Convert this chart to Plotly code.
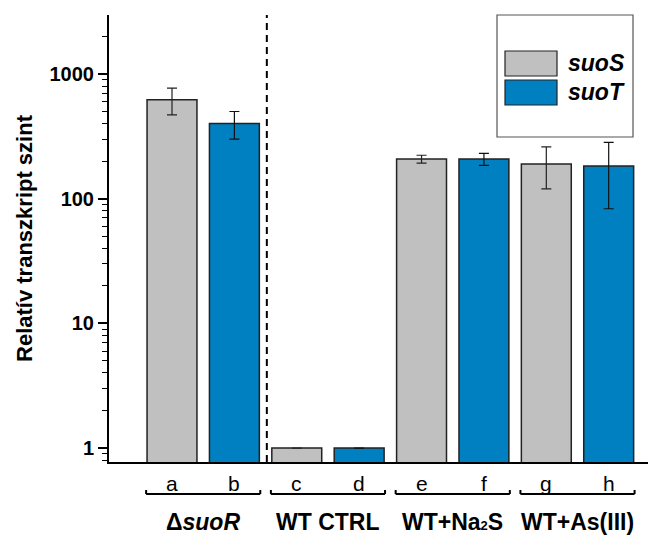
import plotly.graph_objects as go

# ---- data ----
categories = ["a", "b", "c", "d", "e", "f", "g", "h"]
suoS_cats = ["a", "c", "e", "g"]
suoT_cats = ["b", "d", "f", "h"]
suoS_vals = [620, 1.0, 208, 190]
suoT_vals = [400, 1.0, 208, 183]
suoS_err = [150, None, 15, 70]
suoT_err = [100, None, 23, 100]
group_labels = ["<b>Δ<i>suoR</i></b>", "<b>WT CTRL</b>",
                "<b>WT+Na<span style='font-size:13px'>2</span>S</b>", "<b>WT+As(III)</b>"]
group_members = [("a", "b"), ("c", "d"), ("e", "f"), ("g", "h")]
series_names = ["suoS", "suoT"]
y_ticks = [1, 10, 100, 1000]
y_tick_text = ["1", "10", "100", "1000"]

# ---- style ----
FONT = "Arial, Liberation Sans, sans-serif"
GRAY = "#C0C0C0"
BLUE = "#0080C0"
OUTLINE = "#222222"

OFF = 8  # page body margin
W, H = 662 - OFF, 535 - OFF
L = 109 - OFF
T = 15 - OFF
R = W - (648 - OFF)
B = H - (462 - OFF)
PW, PH = W - L - R, H - T - B


def px_x(p):
    return (p - OFF - L) / PW


def px_y(p):
    return (H - B - (p - OFF)) / PH


fig = go.Figure()
fig.add_trace(go.Bar(
    x=suoS_cats, y=suoS_vals, name=series_names[0], width=0.8,
    marker=dict(color=GRAY, line=dict(color=OUTLINE, width=1.5)),
    error_y=dict(type="data", array=suoS_err, visible=True, color="#222222", thickness=1.2, width=5),
    showlegend=False,
))
fig.add_trace(go.Bar(
    x=suoT_cats, y=suoT_vals, name=series_names[1], width=0.8,
    marker=dict(color=BLUE, line=dict(color=OUTLINE, width=1.5)),
    error_y=dict(type="data", array=suoT_err, visible=True, color="#111111", thickness=1.2, width=5),
    showlegend=False,
))

minor_vals = []
for dec in [0.1, 1, 10, 100, 1000]:
    for m in range(2, 10):
        minor_vals.append(m * dec)

fig.update_layout(
    width=W, height=H,
    margin=dict(l=L, r=R, t=T, b=B, autoexpand=False),
    paper_bgcolor="white", plot_bgcolor="white",
    barmode="overlay",
    font=dict(family=FONT, color="black"),
    xaxis=dict(
        type="category", categoryorder="array", categoryarray=categories,
        range=[-1.01, 7.63], showline=True, linecolor="black", linewidth=2,
        ticks="", showticklabels=False, showgrid=False, zeroline=False,
    ),
    yaxis=dict(
        type="log", range=[-0.112, 3.473],
        tickvals=y_ticks, ticktext=["<b>%s</b>" % t for t in y_tick_text],
        tickfont=dict(size=20, family=FONT, color="black"),
        ticks="outside", ticklen=9, tickwidth=1.5, tickcolor="black",
        minor=dict(tickvals=minor_vals, ticks="outside", ticklen=5, tickwidth=1.2, tickcolor="black", showgrid=False),
        showline=True, linecolor="black", linewidth=2, showgrid=False, zeroline=False,
        title=dict(text="<b>Relatív transzkript szint</b>", font=dict(size=22, family=FONT), standoff=11),
    ),
)

# dashed separator between ΔsuoR and WT groups
fig.add_shape(type="line", xref="x", yref="paper", x0=1.52, x1=1.52, y0=0, y1=1,
              line=dict(color="black", width=2, dash="7px,5px"))

# letters under bars (category positions)
for c in categories:
    fig.add_annotation(x=c, xref="x", y=px_y(483), yref="paper", text=c, showarrow=False,
                       font=dict(size=21, family=FONT), xanchor="center", yanchor="middle")

# brackets under pairs
idx = {c: i for i, c in enumerate(categories)}
yb = px_y(494)
ye = px_y(490)
half = 0.915
for (c0, c1), lab in zip(group_members, group_labels):
    mid = (idx[c0] + idx[c1]) / 2
    x0, x1 = mid - half, mid + half
    fig.add_shape(type="line", xref="x", yref="paper", x0=x0, x1=x1, y0=yb, y1=yb,
                  line=dict(color="black", width=2))
    for xx in (x0, x1):
        fig.add_shape(type="line", xref="x", yref="paper", x0=xx, x1=xx, y0=yb, y1=ye,
                      line=dict(color="black", width=2))
    fig.add_annotation(x=mid, xref="x", y=px_y(522), yref="paper", text=lab,
                       showarrow=False, font=dict(size=23, family=FONT), xanchor="center", yanchor="middle")

# legend box (drawn)
fig.add_shape(type="rect", xref="paper", yref="paper", x0=px_x(497), x1=px_x(633), y0=px_y(137), y1=px_y(15),
              line=dict(color="#555555", width=1.2), fillcolor="white", layer="above")
for i, (nm, col) in enumerate(zip(series_names, [GRAY, BLUE])):
    y0p, y1p = (51, 76) if i == 0 else (80, 105)
    fig.add_shape(type="rect", xref="paper", yref="paper", x0=px_x(505), x1=px_x(557),
                  y0=px_y(y1p), y1=px_y(y0p), line=dict(color=OUTLINE, width=1.2), fillcolor=col, layer="above")
    fig.add_annotation(x=px_x(566), xref="paper", y=px_y((y0p + y1p) / 2), yref="paper",
                       text="<b><i>%s</i></b>" % nm, showarrow=False, xanchor="left", yanchor="middle",
                       font=dict(size=23, family=FONT))

fig.write_html("out.html")
